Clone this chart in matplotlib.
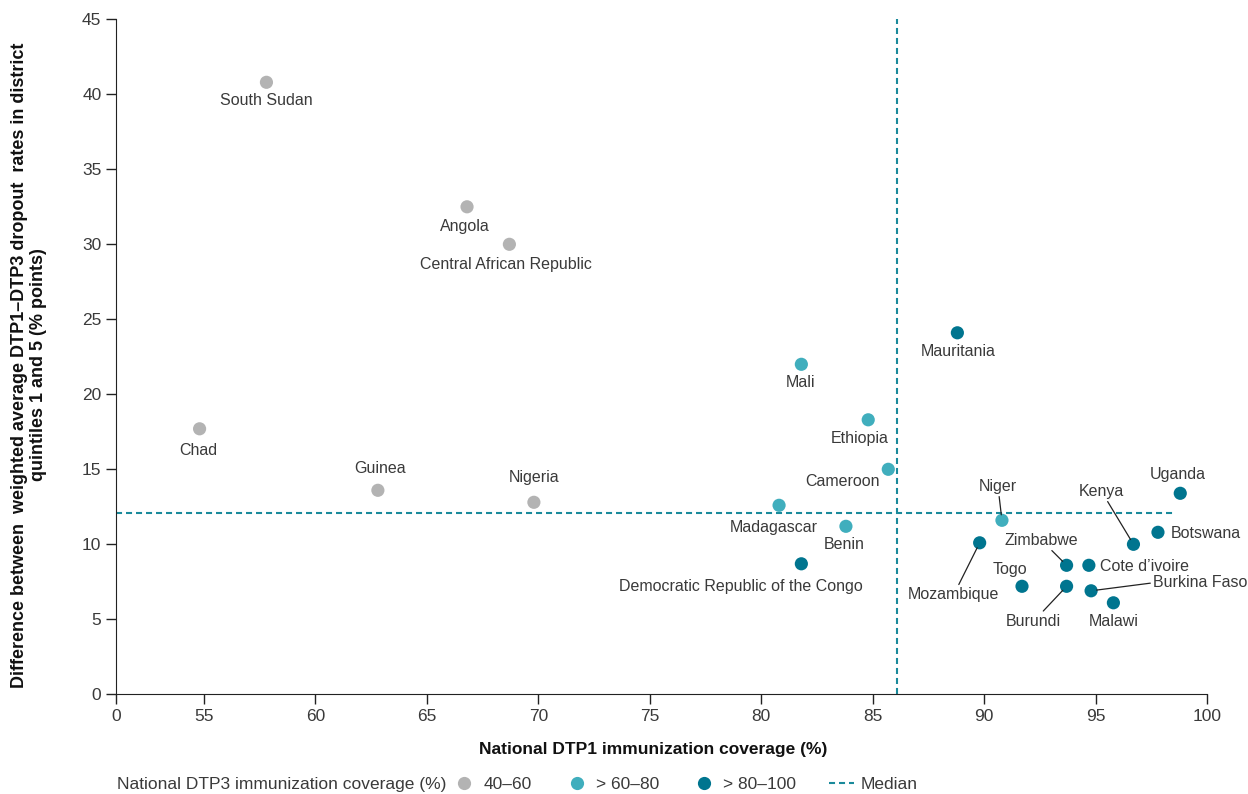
import numpy as np
import matplotlib.pyplot as plt
from matplotlib.lines import Line2D

plt.rcParams['font.family'] = ['Liberation Sans', 'DejaVu Sans']

# countries, national DTP1 coverage (%) and the district quintile dropout gap (% points)
countries = ['South Sudan', 'Angola', 'Central African Republic', 'Chad', 'Guinea', 'Nigeria',
             'Mali', 'Mauritania', 'Ethiopia', 'Cameroon', 'Madagascar', 'Benin',
             'Democratic Republic of the Congo', 'Niger', 'Uganda', 'Botswana', 'Kenya',
             'Mozambique', 'Zimbabwe', 'Cote d\u2019ivoire', 'Togo', 'Burundi', 'Burkina Faso', 'Malawi']
dtp1 = [57.8, 66.8, 68.7, 54.8, 62.8, 69.8,
        81.8, 88.8, 84.8, 85.7, 80.8, 83.8,
        81.8, 90.8, 98.8, 97.8, 96.7,
        89.8, 93.7, 94.7, 91.7, 93.7, 94.8, 95.8]
gap = [40.8, 32.5, 30.0, 17.7, 13.6, 12.8,
       22.0, 24.1, 18.3, 15.0, 12.6, 11.2,
       8.7, 11.6, 13.4, 10.8, 10.0,
       10.1, 8.6, 8.6, 7.2, 7.2, 6.9, 6.1]
# DTP3 coverage group: 0 = 40-60, 1 = >60-80, 2 = >80-100
dtp3_group = [0, 0, 0, 0, 0, 0,
              1, 2, 1, 1, 1, 1,
              2, 1, 2, 2, 2,
              2, 2, 2, 2, 2, 2, 2]
group_labels = ['40\u201360', '> 60\u201380', '> 80\u2013100']
median_dtp1 = 86.1
median_gap = 12.1

x_ticks = [55, 60, 65, 70, 75, 80, 85, 90, 95, 100]
y_ticks = [0, 5, 10, 15, 20, 25, 30, 35, 40, 45]

group_colors = ['#b3b3b3', '#40aebd', '#00758f']
median_color = '#1a8a9b'
text_color = '#3a3a3a'

# label offsets in pixels from the point (dx, dy, alignment)
label_pos = {
    'South Sudan': (0, -18, 'center'),
    'Angola': (-2, -20, 'center'),
    'Central African Republic': (-3, -20, 'center'),
    'Chad': (-1, -22, 'center'),
    'Guinea': (2, 22, 'center'),
    'Nigeria': (0, 25, 'center'),
    'Mali': (-1, -18, 'center'),
    'Mauritania': (1, -19, 'center'),
    'Ethiopia': (-9, -19, 'center'),
    'Cameroon': (-46, -12, 'center'),
    'Madagascar': (-5, -22, 'center'),
    'Benin': (-2, -18, 'center'),
    'Democratic Republic of the Congo': (-60, -23, 'center'),
    'Niger': (-4, 34, 'center'),
    'Uganda': (-3, 19, 'center'),
    'Botswana': (13, -1, 'left'),
    'Kenya': (-32, 53, 'center'),
    'Mozambique': (-26, -52, 'center'),
    'Zimbabwe': (-25, 25, 'center'),
    'Cote d\u2019ivoire': (11, -1, 'left'),
    'Togo': (-12, 17, 'center'),
    'Burundi': (-33, -35, 'center'),
    'Burkina Faso': (62, 8, 'left'),
    'Malawi': (0, -19, 'center'),
}
leader = ['Niger', 'Kenya', 'Mozambique', 'Zimbabwe', 'Burundi', 'Burkina Faso']

# the x axis jumps from 0 straight to 55
axis_break = 51.05

fig = plt.figure(figsize=(12.48, 7.94), dpi=100)
ax = fig.add_axes([116/1248, 1 - 694.3/794, 1091/1248, 675/794])

dash = (0, (2.9, 1.9))
ax.plot([axis_break, 98.5], [median_gap, median_gap], color=median_color, lw=1.5, ls=dash, zorder=1)
ax.plot([median_dtp1, median_dtp1], [0, 45], color=median_color, lw=1.5, ls=dash, zorder=1, clip_on=False)

x = np.array(dtp1)
y = np.array(gap)
g = np.array(dtp3_group)
for k in range(3):
    ax.scatter(x[g == k], y[g == k], s=90, color=group_colors[k], edgecolors='none', zorder=3)

for name, xi, yi in zip(countries, dtp1, gap):
    dx, dy, ha = label_pos[name]
    arrow = None
    if name in leader:
        relpos = (0, 0.5) if ha == 'left' else (0.5, 0.5)
        arrow = dict(arrowstyle='-', color='#222222', lw=0.9, shrinkA=0, shrinkB=4, relpos=relpos)
    ax.annotate(name, (xi, yi), xytext=(dx, dy), textcoords='offset pixels',
                ha=ha, va='center', fontsize=11.5, color=text_color, arrowprops=arrow)

ax.set_xlim(axis_break, 100)
ax.set_ylim(0, 45)
ax.set_xticks([axis_break] + x_ticks)
ax.set_xticklabels(['0'] + [str(t) for t in x_ticks])
ax.set_yticks(y_ticks)
ax.tick_params(axis='both', labelsize=12.5, labelcolor=text_color, length=7, width=1, color='#222222')
ax.spines['top'].set_visible(False)
ax.spines['right'].set_visible(False)
ax.spines['left'].set_color('#222222')
ax.spines['bottom'].set_color('#222222')

ax.set_xlabel('National DTP1 immunization coverage (%)', fontsize=12.5, fontweight='bold', color='#111111')
ax.xaxis.set_label_coords((653 - 116) / 1091, -0.07)
ax.set_ylabel('Difference between  weighted average DTP1\u2013DTP3 dropout  rates in district\nquintiles 1 and 5 (% points)',
              fontsize=13, fontweight='bold', color='#111111', linespacing=1.15)
ax.yaxis.set_label_coords(-0.063, 0.488)

fig.text(117/1248, 1 - 784/794, 'National DTP3 immunization coverage (%)', fontsize=12.5,
         color=text_color, ha='left', va='center')
handles = [Line2D([], [], marker='o', ls='', markersize=9.5, color=c, markeredgecolor='none') for c in group_colors]
handles.append(Line2D([], [], ls=dash, lw=1.5, color=median_color))
fig.legend(handles, group_labels + ['Median'], loc='center left', bbox_to_anchor=(452/1248, 1 - 784/794),
           ncol=4, frameon=False, fontsize=12.5, labelcolor=text_color, handlelength=1.4,
           handletextpad=0.4, columnspacing=1.9, borderaxespad=0, borderpad=0)

fig.savefig('out.png', dpi=100)
